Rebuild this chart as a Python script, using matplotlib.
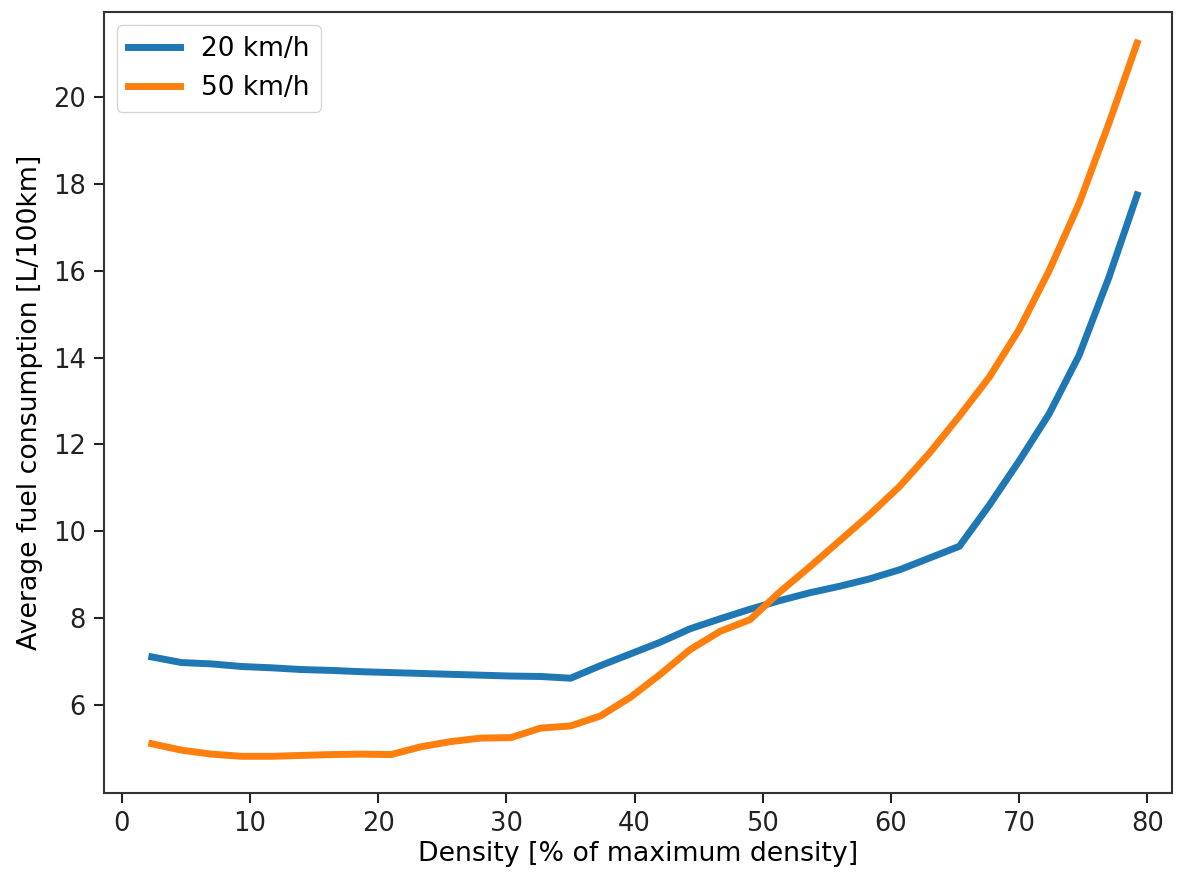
import numpy as np
import matplotlib
matplotlib.use("Agg")
import matplotlib.pyplot as plt

# density steps (% of maximum density)
density = [2.33, 4.67, 7.0, 9.33, 11.67, 14.0, 16.33, 18.67, 21.0, 23.33,
           25.67, 28.0, 30.33, 32.67, 35.0, 37.33, 39.67, 42.0, 44.33, 46.67,
           49.0, 51.33, 53.67, 56.0, 58.33, 60.67, 63.0, 65.33, 67.67, 70.0,
           72.33, 74.67, 77.0, 79.2]

fuel_20 = [7.10, 6.97, 6.94, 6.88, 6.85, 6.81, 6.79, 6.76, 6.74, 6.72,
           6.70, 6.68, 6.66, 6.65, 6.61, 6.90, 7.17, 7.44, 7.75, 7.98,
           8.20, 8.40, 8.58, 8.73, 8.90, 9.11, 9.38, 9.65, 10.60, 11.62,
           12.70, 14.05, 15.85, 17.75]

fuel_50 = [5.10, 4.95, 4.86, 4.81, 4.81, 4.83, 4.85, 4.86, 4.85, 5.03,
           5.15, 5.23, 5.24, 5.46, 5.51, 5.74, 6.17, 6.70, 7.27, 7.69,
           7.96, 8.60, 9.18, 9.78, 10.38, 11.03, 11.80, 12.65, 13.55, 14.65,
           16.00, 17.55, 19.40, 21.25]

FS = 18.5
LABEL_FS = 19.3

fig, ax = plt.subplots(figsize=(11.8, 8.75), dpi=100)
fig.subplots_adjust(left=0.088, right=0.993, top=0.986, bottom=0.094)

ax.plot(density, fuel_20, color="#1f77b4", lw=5, label="20 km/h")
ax.plot(density, fuel_50, color="#ff7f0e", lw=5, label="50 km/h")

ax.set_xlim(-1.41, 81.9)
ax.set_ylim(3.97, 21.96)
ax.set_xlabel("Density [% of maximum density]", fontsize=LABEL_FS, labelpad=3)
ax.set_ylabel("Average fuel consumption [L/100km]", fontsize=LABEL_FS, labelpad=7)
ax.set_xticks(np.arange(0, 81, 10))
ax.set_yticks(np.arange(6, 21, 2))
ax.tick_params(labelsize=FS, length=7, width=1.5, pad=6, colors="#222222")
for s in ax.spines.values():
    s.set_linewidth(1.5)
    s.set_color("#333333")
ax.legend(loc="upper left", fontsize=19, borderaxespad=0.5)

fig.savefig("out.png")
